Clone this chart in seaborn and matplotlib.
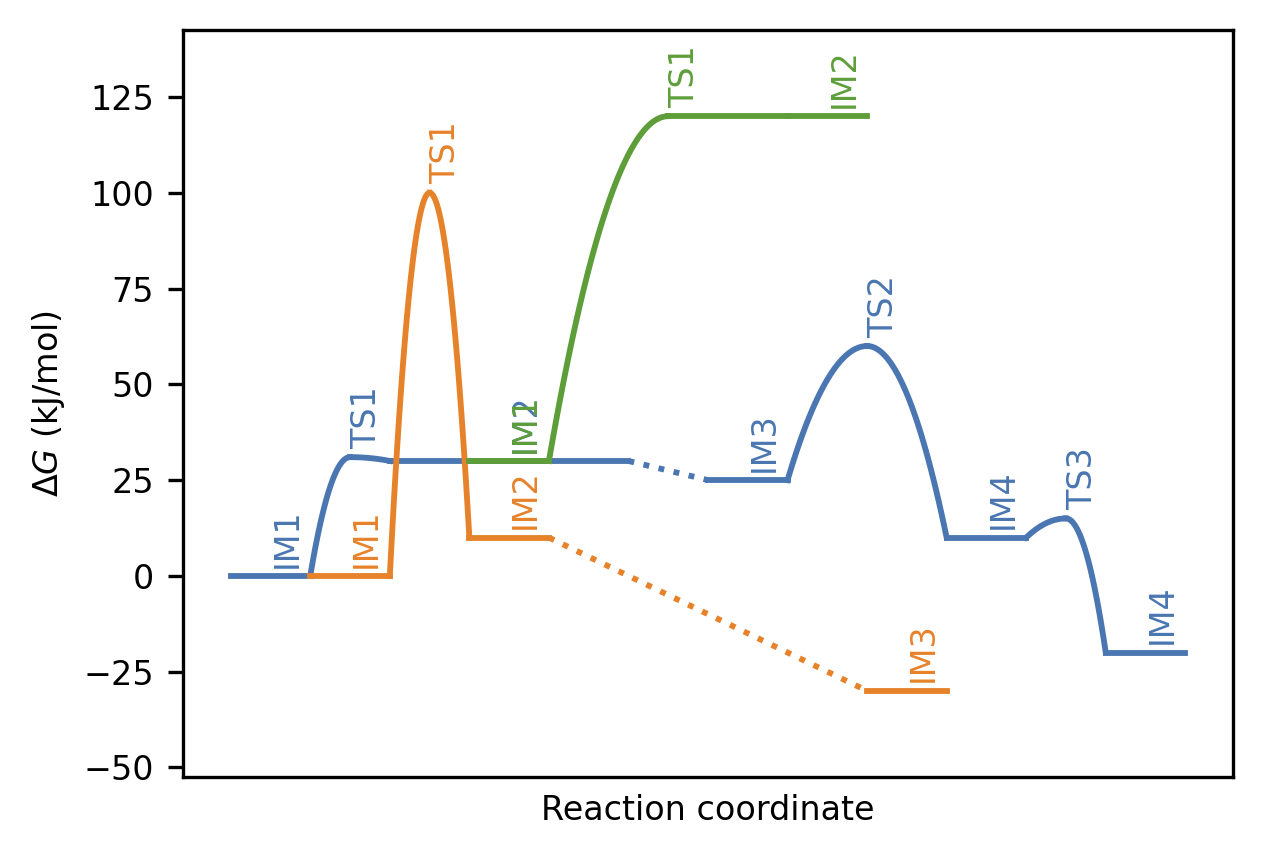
import numpy as np
import matplotlib
matplotlib.use("Agg")
import matplotlib.pyplot as plt
import seaborn as sns

# pathway 1 (blue): states, horizontal extent on the reaction coordinate, energies
p1_labels = ["IM1", "TS1", "IM2", "IM3", "TS2", "IM4", "TS3", "IM4"]
p1_left = [0, 1.5, 2, 6, 8, 9, 10.5, 11]
p1_right = [1, 1.5, 5, 7, 8, 10, 10.5, 12]
p1_G = [0, 31, 30, 25, 60, 10, 15, -20]

# pathway 2 (orange)
p2_labels = ["IM1", "TS1", "IM2", "IM3"]
p2_left = [1, 2.5, 3, 8]
p2_right = [2, 2.5, 4, 9]
p2_G = [0, 100, 10, -30]

# pathway 3 (green)
p3_labels = ["IM1", "TS1", "IM2"]
p3_left = [3, 5.5, 7]
p3_right = [4, 5.5, 8]
p3_G = [30, 120, 120]

colors = ["#4a76b1", "#e6822a", "#5e9e3a"]
LW = 1.4

plt.rcParams["font.size"] = 8
plt.rcParams["font.family"] = ["DejaVu Sans"]


def half_parabola(xv, gv, xe, ge, n=60):
    # vertex at the transition state, reaching the neighbouring level at xe
    x = np.linspace(xv, xe, n)
    g = gv + (ge - gv) * ((x - xv) / (xe - xv)) ** 2
    return x, g


def draw_path(ax, labels, left, right, G, color):
    for i, lab in enumerate(labels):
        is_ts = lab.startswith("TS")
        if not is_ts:
            sns.lineplot(x=[left[i], right[i]], y=[G[i], G[i]], color=color,
                         lw=LW, estimator=None, sort=False, ax=ax)
        if i + 1 < len(labels):
            x0, x1 = right[i], left[i + 1]
            nxt_ts = labels[i + 1].startswith("TS")
            if is_ts:
                xs, gs = half_parabola(x0, G[i], x1, G[i + 1])
                sns.lineplot(x=xs, y=gs, color=color, lw=LW,
                             estimator=None, sort=False, ax=ax)
            elif nxt_ts:
                xs, gs = half_parabola(x1, G[i + 1], x0, G[i])
                sns.lineplot(x=xs[::-1], y=gs[::-1], color=color, lw=LW,
                             estimator=None, sort=False, ax=ax)
            elif x1 > x0:
                sns.lineplot(x=[x0, x1], y=[G[i], G[i + 1]], color=color,
                             lw=LW, linestyle=":", estimator=None, sort=False, ax=ax)
        ax.annotate(lab, xy=((left[i] + right[i]) / 2, G[i]), xytext=(0, 2),
                    textcoords="offset points", rotation=90, ha="left",
                    va="bottom", color=color, fontsize=8)


fig = plt.figure(figsize=(1263 / 300, 858 / 300), dpi=300)
ax = fig.add_axes([183 / 1263, 1 - 777 / 858, 1050 / 1263, 747 / 858])

draw_path(ax, p1_labels, p1_left, p1_right, p1_G, colors[0])
draw_path(ax, p2_labels, p2_left, p2_right, p2_G, colors[1])
draw_path(ax, p3_labels, p3_left, p3_right, p3_G, colors[2])

ax.set_xlim(-0.6, 12.6)
ax.set_ylim(-52.5, 142.5)
ax.set_yticks(np.arange(-50, 126, 25))
ax.set_xticks([])
ax.set_xlabel("Reaction coordinate")
ax.set_ylabel(r"$\Delta G$ (kJ/mol)")

fig.savefig("out.png", dpi=300)
